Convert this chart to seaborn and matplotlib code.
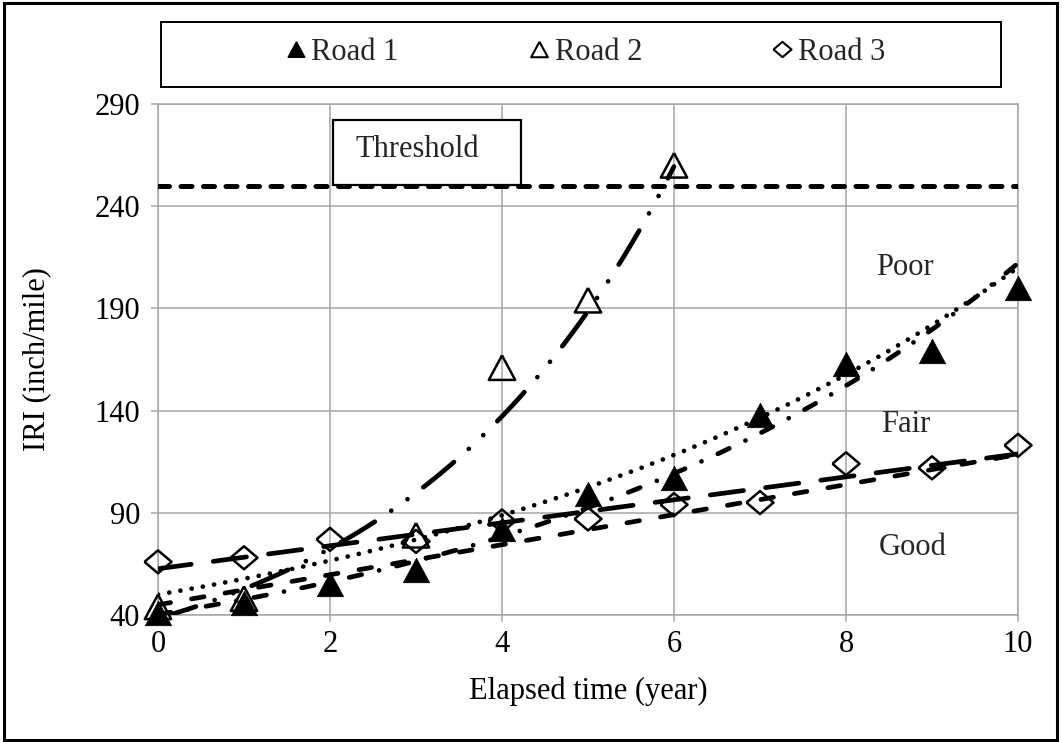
import numpy as np
import matplotlib
matplotlib.use("Agg")
import matplotlib.pyplot as plt
from matplotlib.patches import Rectangle
from matplotlib.lines import Line2D
import seaborn as sns

# ---- data -------------------------------------------------------------
years = [0, 1, 2, 3, 4, 5, 6, 7, 8, 9, 10]
road1_iri = [41, 46, 55, 62, 82, 99, 107, 138, 163, 169, 200]
road2_years = [0, 1, 3, 4, 5, 6]
road2_iri = [44, 48, 79, 161, 194, 260]
road3_iri = [66, 68, 77, 76, 86, 87, 94, 95, 114, 112, 123]

threshold_iri = 250
# reference growth curves: exponential (initial IRI, yearly rate), linear (intercept, slope)
exp_curve = [50.0, 0.1435]
lin_curve = [45.0, 7.35]

x_ticks = [0, 2, 4, 6, 8, 10]
y_ticks = [40, 90, 140, 190, 240, 290]
zone_labels = ["Poor", "Fair", "Good"]
legend_labels = ["Road 1", "Road 2", "Road 3"]

# ---- style ------------------------------------------------------------
sns.set_theme(style="white")
plt.rcParams["font.family"] = ["Liberation Serif", "DejaVu Serif"]
FS = 22
GRID = "#a6a6a6"

W, H = 1062, 742
fig = plt.figure(figsize=(W / 100, H / 100), dpi=100)
ax = fig.add_axes([158 / W, 127 / H, 860 / W, 511 / H])

tri_up = [(0, 0.93), (-1, -0.93), (1, -0.93), (0, 0.93)]
diamond = [(-1, 0), (0, 0.85), (1, 0), (0, -0.85), (-1, 0)]

# ---- fitted trend lines -------------------------------------------------
xs10 = np.linspace(0, 10, 400)
xs6 = np.linspace(0, 6, 300)

b1, lna1 = np.polyfit(years, np.log(road1_iri), 1)
b2, lna2 = np.polyfit(road2_years, np.log(road2_iri), 1)
s3, c3 = np.polyfit(years, road3_iri, 1)

LW = 3.4
common = dict(ax=ax, color="black", linewidth=LW, dash_capstyle="round",
              solid_capstyle="round", zorder=4, legend=False)

# Road 1 exponential trend (dash-dot)
sns.lineplot(x=xs10, y=np.exp(lna1 + b1 * xs10),
             linestyle=(0, (2.7, 3.8, 0.01, 3.8)), **common)
# Road 2 exponential trend (long dash-dot-dot)
sns.lineplot(x=xs6, y=np.exp(lna2 + b2 * xs6),
             linestyle=(0, (8.4, 4.2, 0.01, 4.2, 0.01, 4.2)), **common)
# Road 3 linear trend (long dash)
sns.lineplot(x=xs10, y=c3 + s3 * xs10,
             linestyle=(0, (7.1, 4.7)), **common)
# exponential reference curve (dotted)
sns.lineplot(x=xs10, y=exp_curve[0] * np.exp(exp_curve[1] * xs10),
             linestyle=(0, (0.01, 2.4)), **common)
# linear reference curve (medium dash)
sns.lineplot(x=xs10, y=lin_curve[0] + lin_curve[1] * xs10,
             linestyle=(0, (2.7, 4.5)), **common)

# threshold
ax.axhline(threshold_iri, color="black", linewidth=3.6,
           linestyle=(0, (2.2, 2.3)), dash_capstyle="round", zorder=4)

# ---- observed points ----------------------------------------------------
sns.scatterplot(x=road2_years, y=road2_iri, marker=tri_up, s=360,
                facecolor="none", edgecolor="black", linewidth=1.8,
                zorder=3, ax=ax, legend=False, clip_on=False)
sns.scatterplot(x=years, y=road3_iri, marker=diamond, s=380,
                facecolor="none", edgecolor="black", linewidth=1.8,
                zorder=3, ax=ax, legend=False, clip_on=False)
sns.scatterplot(x=years, y=road1_iri, marker=tri_up, s=360,
                facecolor="black", edgecolor="black", linewidth=0.5,
                zorder=3, ax=ax, legend=False, clip_on=False)

# ---- axes ---------------------------------------------------------------
ax.set_xlim(0, 10)
ax.set_ylim(40, 290)
ax.set_xticks(x_ticks)
ax.set_yticks(y_ticks)
ax.grid(True, color=GRID, linewidth=1.1)
ax.set_axisbelow(True)
for sp in ax.spines.values():
    sp.set_visible(True)
    sp.set_color(GRID)
    sp.set_linewidth(1.1)
ax.tick_params(axis="both", direction="out", length=5, width=1.1,
               color=GRID, labelsize=FS, labelcolor="black")
ax.tick_params(axis="x", pad=6, bottom=True)
ax.tick_params(axis="y", pad=8, left=True)

ax.set_xlabel("Elapsed time (year)", fontsize=FS, color="black")
ax.set_ylabel("IRI (inch/mile)", fontsize=FS, color="black")
ax.xaxis.set_label_coords(0.5, -0.121)
ax.yaxis.set_label_coords(-0.1244, 0.5)

# zone labels
for lab, (tx, ty) in zip(zone_labels, [(8.69, 210), (8.69, 133), (8.77, 73)]):
    ax.text(tx, ty, lab, fontsize=FS, ha="center", va="center", zorder=6)

# threshold tag
ax.add_patch(Rectangle((2.035, 250.4), 2.185, 31.8, facecolor="white",
                       edgecolor="black", linewidth=1.6, zorder=5))
ax.text(3.01, 267.5, "Threshold", fontsize=FS, ha="center", va="center", zorder=6)

# ---- legend -------------------------------------------------------------
handles = [
    Line2D([], [], marker=tri_up, linestyle="", color="black", ms=12),
    Line2D([], [], marker=tri_up, linestyle="", mfc="none", mec="black", mew=1.5, ms=12),
    Line2D([], [], marker=diamond, linestyle="", mfc="none", mec="black", mew=1.5, ms=13),
]
fig.legend(handles, legend_labels, loc="center", ncol=3,
           bbox_to_anchor=(586 / W, 1 - 52 / H), frameon=False, fontsize=FS,
           handlelength=0.6, handletextpad=0.2, columnspacing=4.3,
           borderpad=0, borderaxespad=0)
fig.add_artist(Rectangle((161 / W, 1 - 87 / H), 840 / W, 65 / H,
                         transform=fig.transFigure, facecolor="none",
                         edgecolor="black", linewidth=1.4))

# outer frame
fig.add_artist(Rectangle((4 / W, 2 / H), 1053 / W, 737 / H,
                         transform=fig.transFigure, facecolor="none",
                         edgecolor="black", linewidth=2.2))

fig.savefig("out.png", dpi=100)
